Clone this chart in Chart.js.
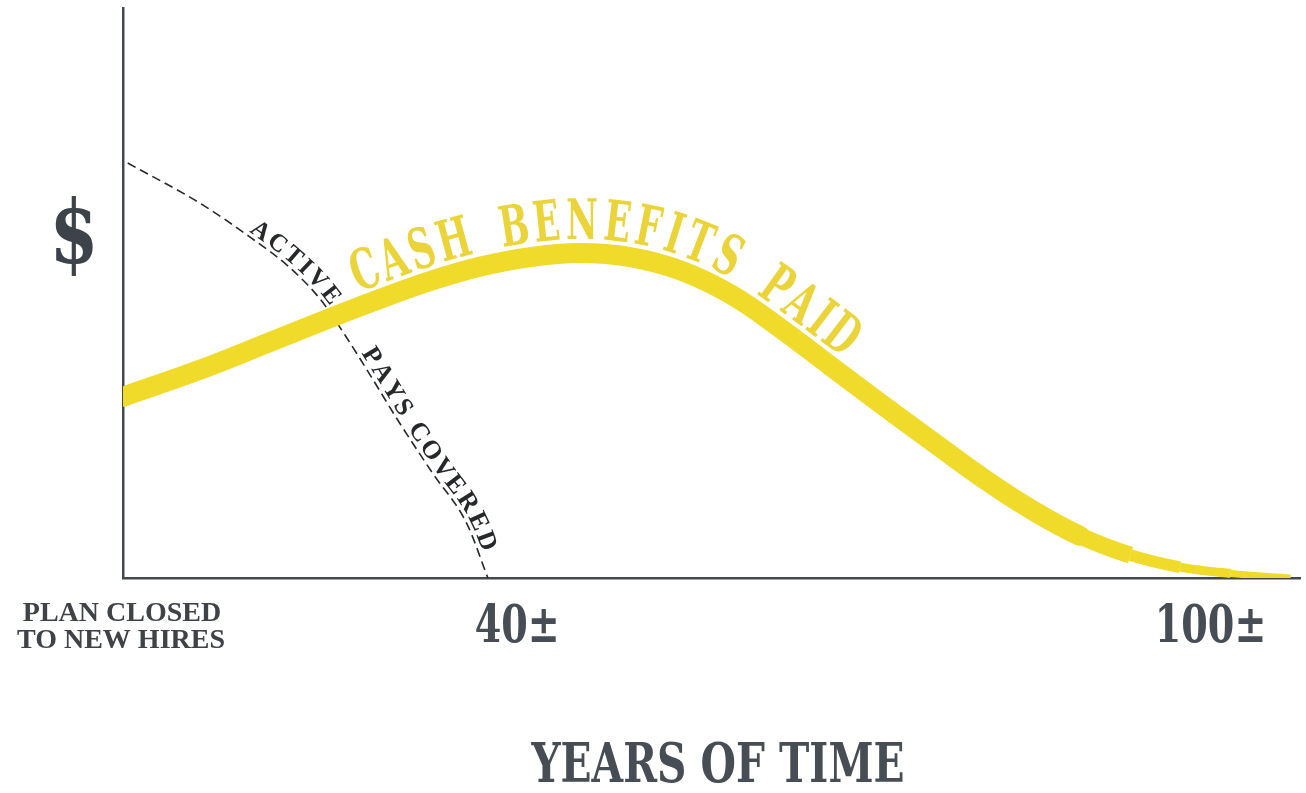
<!DOCTYPE html>
<html lang="en">
<head>
  <meta charset="UTF-8"/>
  <title>Cash Benefits Paid</title>
  <script src="https://cdn.jsdelivr.net/npm/chart.js"></script>
  <style>
    body { margin: 0; background: #fff; }
    .chart-box { width: 1306px; height: 793px; position: relative; }
  </style>
</head>
<body>
  <div class="chart-box"><canvas id="benefitsChart"></canvas></div>

  <script>
    // Values (schematic units: time 0-100, dollars 0-100)
    const benefitYears = [0, 6.5, 12.5, 17.6, 21.9, 26.1, 30.3, 34.6, 38.8, 43.1, 47.3, 51.6, 55.8, 60.1, 64.3, 68.6, 72.8, 77.1, 81.3, 85.6, 89.8, 94.1, 99.2];
    const benefitPaid  = [31.8, 36.5, 41.4, 45.6, 49.0, 52.1, 54.6, 56.3, 57.0, 56.3, 54.0, 49.8, 43.9, 37.2, 30.7, 24.2, 17.9, 12.1, 7.4, 4.0, 1.9, 0.8, 0];
    const activeYears  = [0.4, 6.5, 10.8, 14.2, 16.8, 18.9, 21.0, 23.5, 26.3, 29.2, 31.0];
    const activePays   = [72.8, 65.8, 59.8, 54.4, 48.8, 42.5, 35.6, 27.2, 18.4, 9.6, 0];
    const xTickPositions = [33.5, 92.4];
    const xTickLabels    = ['40±', '100±'];

    // where the curved captions start, in time units
    const cashLabelStart   = 20.3;
    const activeLabelStart = 10.4;
    const paysLabelStart   = 19.9;

    // Helpers
    function drawStretched(ctx, text, cx, baseline, font, sx) {
      ctx.save();
      ctx.font = font;
      ctx.textAlign = 'center';
      ctx.textBaseline = 'alphabetic';
      ctx.translate(cx, baseline);
      ctx.scale(sx, 1);
      ctx.fillText(text, 0, 0);
      ctx.restore();
    }

    // sample the bezier curve Chart.js built for a dataset
    function buildPath(points) {
      const pts = [];
      for (let i = 0; i < points.length - 1; i++) {
        const a = points[i], b = points[i + 1];
        const c1x = a.cp2x ?? a.x, c1y = a.cp2y ?? a.y;
        const c2x = b.cp1x ?? b.x, c2y = b.cp1y ?? b.y;
        for (let k = 0; k < 30; k++) {
          const t = k / 30, u = 1 - t;
          pts.push({
            x: u*u*u*a.x + 3*u*u*t*c1x + 3*u*t*t*c2x + t*t*t*b.x,
            y: u*u*u*a.y + 3*u*u*t*c1y + 3*u*t*t*c2y + t*t*t*b.y
          });
        }
      }
      const last = points[points.length - 1];
      pts.push({ x: last.x, y: last.y });
      pts[0].s = 0;
      for (let i = 1; i < pts.length; i++) {
        pts[i].s = pts[i - 1].s + Math.hypot(pts[i].x - pts[i - 1].x, pts[i].y - pts[i - 1].y);
      }
      return pts;
    }

    function locate(path, s) {
      let i = 1;
      while (i < path.length - 1 && path[i].s < s) i++;
      const a = path[i - 1], b = path[i];
      const t = Math.min(Math.max((s - a.s) / ((b.s - a.s) || 1), 0), 1);
      return { x: a.x + (b.x - a.x) * t, y: a.y + (b.y - a.y) * t };
    }

    function arcAtX(path, px) {
      const p = path.find(q => q.x >= px);
      return p ? p.s : 0;
    }

    function textOnPath(ctx, path, text, startS, o) {
      ctx.save();
      ctx.font = o.font;
      ctx.fillStyle = o.color;
      ctx.textAlign = 'center';
      ctx.textBaseline = 'alphabetic';
      let s = startS;
      for (const ch of text) {
        const w = ctx.measureText(ch).width * o.sx;
        if (ch === ' ') { s += w + o.wordGap; continue; }
        const mid = s + w / 2;
        const p0 = locate(path, mid - 6), p1 = locate(path, mid + 6);
        const ang = Math.atan2(p1.y - p0.y, p1.x - p0.x);
        const c = locate(path, mid);
        ctx.save();
        ctx.translate(c.x + Math.sin(ang) * o.offset, c.y - Math.cos(ang) * o.offset);
        ctx.rotate(ang);
        ctx.scale(o.sx, 1);
        ctx.fillText(ch, 0, 0);
        ctx.restore();
        s += w + o.spacing;
      }
      ctx.restore();
    }

    const labelPlugin = {
      id: 'drawingLabels',
      afterDraw(chart) {
        const { ctx, chartArea, scales: { x } } = chart;
        const axisBottom = chartArea.bottom;

        ctx.save();
        ctx.fillStyle = '#474d54';
        xTickLabels.forEach((t, i) => {
          drawStretched(ctx, t, x.getPixelForValue(xTickPositions[i]), axisBottom + 64, 'bold 53px "DejaVu Serif"', 0.72);
        });
        ctx.fillStyle = '#3d434a';
        drawStretched(ctx, '$', 74, 263, 'bold 88px "DejaVu Serif"', 0.8);
        ctx.fillStyle = '#474d54';
        drawStretched(ctx, 'YEARS OF TIME', 718, 782, 'bold 55px "DejaVu Serif"', 0.74);

        ctx.fillStyle = '#3f4348';
        drawStretched(ctx, 'PLAN CLOSED', 122, 621, 'bold 28px "Liberation Serif"', 1.0);
        drawStretched(ctx, 'TO NEW HIRES', 121, 648, 'bold 28px "Liberation Serif"', 1.0);
        ctx.restore();

        // captions along the curves
        const cashPath = buildPath(chart.getDatasetMeta(0).data);
        textOnPath(ctx, cashPath, 'CASH BENEFITS PAID', arcAtX(cashPath, x.getPixelForValue(cashLabelStart)), {
          font: 'bold 56px "DejaVu Serif"', color: '#ebd43a', sx: 0.62, spacing: 3, wordGap: 12, offset: 14
        });

        const activePath = buildPath(chart.getDatasetMeta(1).data);
        textOnPath(ctx, activePath, 'ACTIVE', arcAtX(activePath, x.getPixelForValue(activeLabelStart)), {
          font: 'bold 25px "Liberation Serif"', color: '#26282b', sx: 1, spacing: 2.5, wordGap: 0, offset: 4
        });
        textOnPath(ctx, activePath, 'PAYS COVERED', arcAtX(activePath, x.getPixelForValue(paysLabelStart)), {
          font: 'bold 26px "Liberation Serif"', color: '#26282b', sx: 1, spacing: 2.5, wordGap: 4, offset: 4
        });
      }
    };

    const axisStyle = {
      min: 0,
      max: 100,
      z: 1,
      grid: { display: false, drawTicks: false },
      ticks: { display: false },
      border: { color: '#43484e', width: 2.5 }
    };

    // band thins out as it runs down onto the axis
    function taperWidth(ctx) {
      const v = Math.min(ctx.p0.parsed.y, ctx.p1.parsed.y);
      return Math.max(5, Math.min(20, 7 + v * 2.5));
    }
    function taperCap(ctx) {
      return taperWidth(ctx) < 20 ? 'butt' : 'round';
    }

    new Chart(document.getElementById('benefitsChart'), {
      type: 'line',
      data: {
        datasets: [
          {
            label: 'Cash benefits paid',
            data: benefitYears.map((yr, i) => ({ x: yr, y: benefitPaid[i] })),
            borderColor: '#f0da2a',
            borderWidth: 20,
            borderCapStyle: 'round',
            borderJoinStyle: 'round',
            pointRadius: 0,
            tension: 0.4,
            segment: { borderWidth: taperWidth, borderCapStyle: taperCap },
            clip: 0
          },
          {
            label: 'Active pays covered',
            data: activeYears.map((yr, i) => ({ x: yr, y: activePays[i] })),
            borderColor: '#26282b',
            borderWidth: 1.6,
            borderDash: [9, 5],
            pointRadius: 0,
            cubicInterpolationMode: 'monotone'
          }
        ]
      },
      options: {
        responsive: true,
        maintainAspectRatio: false,
        animation: false,
        layout: { padding: { left: 123, right: 6, top: 8, bottom: 215 } },
        plugins: { legend: { display: false }, tooltip: { enabled: false } },
        scales: {
          x: { type: 'linear', ...axisStyle },
          y: { ...axisStyle }
        }
      },
      plugins: [labelPlugin]
    });
  </script>
</body>
</html>
